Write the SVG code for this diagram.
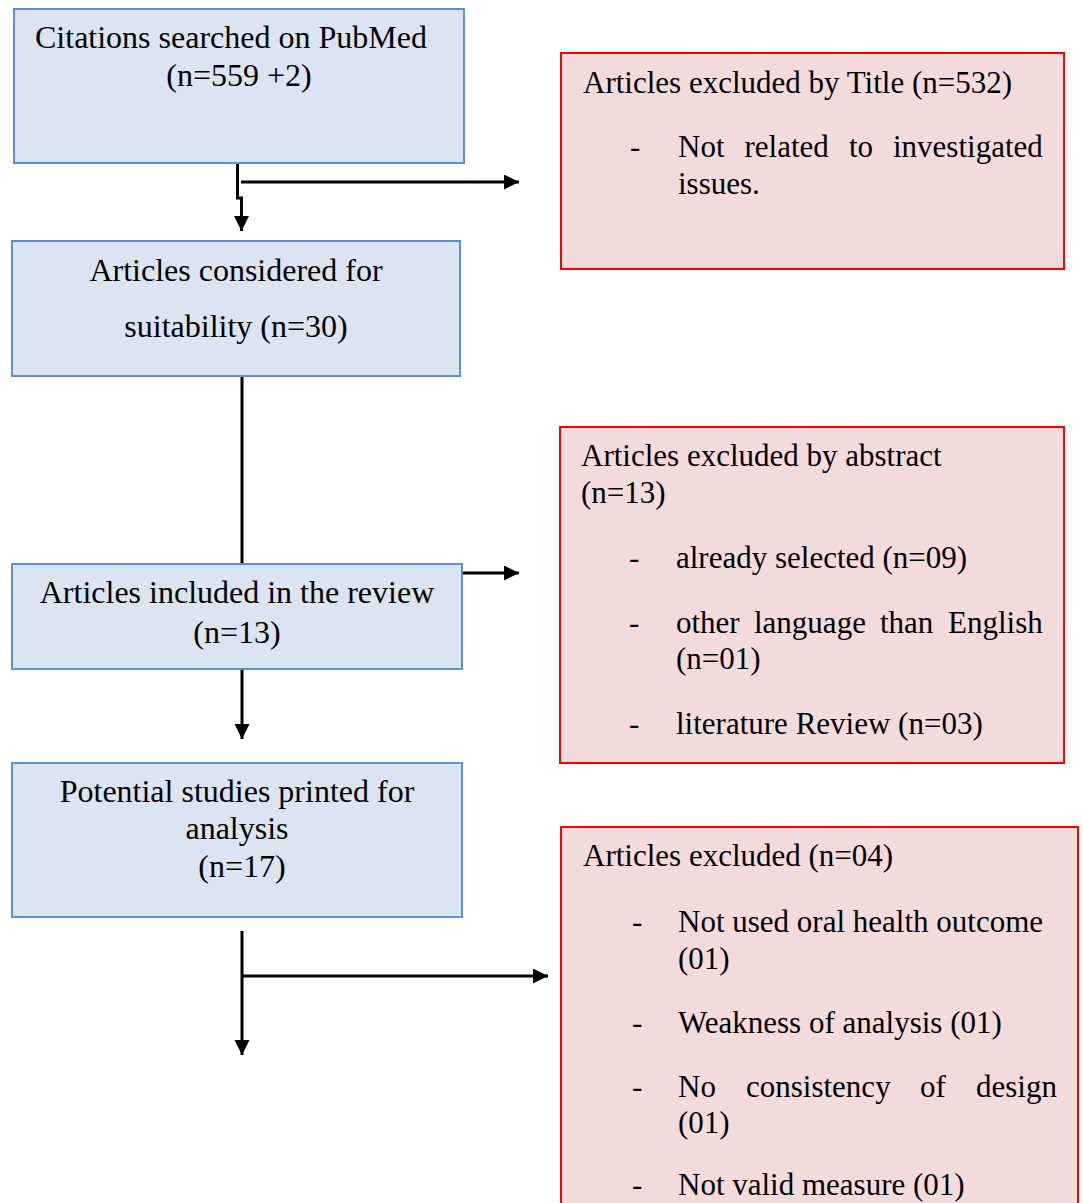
<svg xmlns="http://www.w3.org/2000/svg" width="1083" height="1203" viewBox="0 0 1083 1203">
<style>
.blue{fill:#DBE5F1;stroke:#5B8FD6;stroke-width:2}
.red{fill:#F2DCDB;stroke:#FF0000;stroke-width:2}
text{font-family:"Liberation Serif","Times New Roman",serif;fill:#000}
.bt{font-size:32px}
.rt{font-size:31px}
.c{text-anchor:middle}
.ln{stroke:#000;stroke-width:3;fill:none}
</style>
<defs>
<marker id="ah" markerUnits="userSpaceOnUse" markerWidth="16" markerHeight="16" refX="15" refY="7.5" orient="auto">
<path d="M0,0 L15,7.5 L0,15 z" fill="#000"/>
</marker>
</defs>
<rect width="1083" height="1203" fill="#fff"/>
<g id="connectors">
<path class="ln" d="M237.5,163 V198 H241.5 V231" marker-end="url(#ah)"/>
<path class="ln" d="M241,182 H519" marker-end="url(#ah)"/>
<path class="ln" d="M242,376 V564"/>
<path class="ln" d="M462,573 H519" marker-end="url(#ah)"/>
<path class="ln" d="M242,669 V739" marker-end="url(#ah)"/>
<path class="ln" d="M242,931 V1055" marker-end="url(#ah)"/>
<path class="ln" d="M242,976 H548" marker-end="url(#ah)"/>
</g>
<g id="n1">
<rect class="blue" x="14" y="9" width="450" height="154"/>
<text class="bt" x="35" y="48">Citations searched on PubMed</text>
<text class="bt c" x="239" y="86">(n=559 +2)</text>
</g>
<g id="n2">
<rect class="blue" x="12" y="241" width="448" height="135"/>
<text class="bt c" x="236" y="281">Articles considered for</text>
<text class="bt c" x="236" y="337">suitability (n=30)</text>
</g>
<g id="n3">
<rect class="blue" x="12" y="564" width="450" height="105"/>
<text class="bt c" x="237" y="603">Articles included in the review</text>
<text class="bt c" x="237" y="643">(n=13)</text>
</g>
<g id="n4">
<rect class="blue" x="12" y="763" width="450" height="154"/>
<text class="bt c" x="237" y="802">Potential studies printed for</text>
<text class="bt c" x="237" y="839">analysis</text>
<text class="bt c" x="242" y="877">(n=17)</text>
</g>
<g id="r1">
<rect class="red" x="561" y="53" width="503" height="216"/>
<text class="rt" x="583" y="93">Articles excluded by Title (n=532)</text>
<text class="rt" x="630" y="157">-</text>
<text class="rt" y="157"><tspan x="678">Not</tspan><tspan x="744.5">related</tspan><tspan x="849">to</tspan><tspan x="893">investigated</tspan></text>
<text class="rt" x="678" y="194">issues.</text>
</g>
<g id="r2">
<rect class="red" x="560" y="427" width="504" height="336"/>
<text class="rt" x="581" y="466">Articles excluded by abstract</text>
<text class="rt" x="581" y="503">(n=13)</text>
<text class="rt" x="629" y="568">-</text>
<text class="rt" x="676" y="568">already selected (n=09)</text>
<text class="rt" x="629" y="633">-</text>
<text class="rt" y="633"><tspan x="676">other</tspan><tspan x="754">language</tspan><tspan x="880">than</tspan><tspan x="948">English</tspan></text>
<text class="rt" x="676" y="669">(n=01)</text>
<text class="rt" x="629" y="734">-</text>
<text class="rt" x="676" y="734">literature Review (n=03)</text>
</g>
<g id="r3">
<rect class="red" x="561" y="827" width="517" height="420"/>
<text class="rt" x="583" y="866">Articles excluded (n=04)</text>
<text class="rt" x="632" y="932">-</text>
<text class="rt" x="678" y="932">Not used oral health outcome</text>
<text class="rt" x="678" y="969">(01)</text>
<text class="rt" x="632" y="1033">-</text>
<text class="rt" x="678" y="1033">Weakness of analysis (01)</text>
<text class="rt" x="632" y="1097">-</text>
<text class="rt" y="1097"><tspan x="678">No</tspan><tspan x="746">consistency</tspan><tspan x="920">of</tspan><tspan x="976">design</tspan></text>
<text class="rt" x="678" y="1133">(01)</text>
<text class="rt" x="632" y="1195">-</text>
<text class="rt" x="678" y="1195">Not valid measure (01)</text>
</g>
</svg>
